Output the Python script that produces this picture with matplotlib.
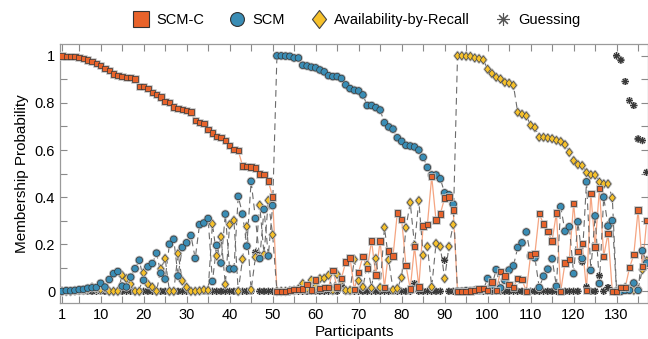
import numpy as np
import matplotlib
matplotlib.use('Agg')
import matplotlib.pyplot as plt
import matplotlib.patheffects as pe
from matplotlib.lines import Line2D
from matplotlib.path import Path
from matplotlib.ticker import MultipleLocator, FuncFormatter

plt.rcParams['font.family'] = ['Liberation Sans', 'DejaVu Sans']

participants = list(range(1, 138))

scm_c = [1.0, 0.998, 0.996, 0.996, 0.994, 0.989, 0.983, 0.976, 0.967, 0.959,
         0.947, 0.937, 0.922, 0.916, 0.912, 0.909, 0.908, 0.902, 0.870, 0.870,
         0.861, 0.845, 0.837, 0.826, 0.807, 0.803, 0.783, 0.777, 0.773, 0.769,
         0.762, 0.725, 0.716, 0.712, 0.688, 0.672, 0.657, 0.652, 0.640, 0.620,
         0.601, 0.598, 0.533, 0.530, 0.528, 0.523, 0.498, 0.495, 0.468, 0.401,
         0.0, 0.0, 0.0, 0.003, 0.007, 0.008, 0.01, 0.028, 0.006, 0.048,
         0.012, 0.016, 0.016, 0.089, 0.018, 0.054, 0.125, 0.142, 0.008, 0.081,
         0.149, 0.096, 0.214, 0.07, 0.214, 0.016, 0.172, 0.15, 0.332, 0.306,
         0.11, 0.01, 0.19, 0.018, 0.277, 0.284, 0.487, 0.302, 0.329, 0.396,
         0.4, 0.345, 0.0, 0.0, 0.0, 0.002, 0.004, 0.01, 0.012, 0.004,
         0.04, 0.004, 0.085, 0.065, 0.03, 0.016, 0.054, 0.05, 0.0, 0.154,
         0.16, 0.33, 0.285, 0.253, 0.214, 0.333, 0.0, 0.12, 0.134, 0.373,
         0.17, 0.203, 0.004, 0.416, 0.189, 0.436, 0.149, 0.245, 0.0, 0.0,
         0.016, 0.016, 0.1, 0.156, 0.345, 0.105, 0.3]

scm = [0.0, 0.003, 0.002, 0.004, 0.007, 0.008, 0.013, 0.015, 0.016, 0.034,
       0.018, 0.05, 0.075, 0.084, 0.022, 0.018, 0.06, 0.096, 0.132, 0.047,
       0.104, 0.118, 0.162, 0.077, 0.052, 0.2, 0.221, 0.065, 0.186, 0.206,
       0.237, 0.14, 0.283, 0.29, 0.309, 0.042, 0.195, 0.12, 0.328, 0.095,
       0.095, 0.403, 0.328, 0.192, 0.467, 0.309, 0.139, 0.348, 0.15, 0.364,
       1.0, 1.0, 0.999, 0.998, 0.991, 0.991, 0.960, 0.957, 0.952, 0.949,
       0.940, 0.932, 0.916, 0.912, 0.912, 0.904, 0.877, 0.861, 0.854, 0.851,
       0.834, 0.789, 0.789, 0.780, 0.770, 0.716, 0.698, 0.689, 0.652, 0.637,
       0.620, 0.617, 0.613, 0.600, 0.569, 0.526, 0.494, 0.494, 0.478, 0.418,
       0.41, 0.37, 0.0, 0.0, 0.002, 0.002, 0.004, 0.004, 0.007, 0.054,
       0.025, 0.092, 0.014, 0.047, 0.09, 0.108, 0.186, 0.206, 0.252, 0.15,
       0.142, 0.016, 0.064, 0.094, 0.138, 0.021, 0.359, 0.255, 0.274, 0.075,
       0.295, 0.139, 0.465, 0.089, 0.32, 0.033, 0.4, 0.277, 0.3, 0.0,
       0.0, 0.004, 0.004, 0.035, 0.004, 0.172, 0.12]

avail = [0.0, 0.0, 0.0, 0.002, 0.004, 0.005, 0.008, 0.017, 0.01, 0.007,
         0.014, 0.0, 0.0, 0.0, 0.068, 0.054, 0.03, 0.0, 0.0, 0.078,
         0.03, 0.018, 0.0, 0.095, 0.139, 0.0, 0.0, 0.16, 0.044, 0.017,
         0.0, 0.0, 0.002, 0.006, 0.004, 0.286, 0.15, 0.231, 0.029, 0.283,
         0.301, 0.0, 0.136, 0.275, 0.006, 0.145, 0.366, 0.156, 0.386, 0.24,
         0.0, 0.0, 0.0, 0.002, 0.004, 0.01, 0.033, 0.012, 0.047, 0.02,
         0.054, 0.055, 0.068, 0.004, 0.072, 0.045, 0.004, 0.004, 0.135, 0.045,
         0.018, 0.113, 0.014, 0.139, 0.016, 0.271, 0.133, 0.006, 0.012, 0.058,
         0.27, 0.377, 0.196, 0.385, 0.153, 0.19, 0.018, 0.203, 0.19, 0.054,
         0.19, 0.283, 1.0, 1.0, 0.998, 0.998, 0.991, 0.988, 0.983, 0.943,
         0.925, 0.909, 0.902, 0.887, 0.884, 0.875, 0.760, 0.752, 0.745, 0.705,
         0.696, 0.654, 0.654, 0.651, 0.648, 0.641, 0.636, 0.623, 0.590, 0.555,
         0.538, 0.534, 0.504, 0.495, 0.494, 0.464, 0.456, 0.456, 0.397, 0.0,
         0.01, 0.016, 0.01, 0.004, 0.01, 0.092, 0.13]

guess = [0.0, 0.0, 0.0, 0.0, 0.0, 0.0, 0.0, 0.0, 0.0, 0.0,
         0.0, 0.0, 0.0, 0.0, 0.0, 0.0, 0.0, 0.0, 0.0, 0.0,
         0.0, 0.0, 0.0, 0.0, 0.0, 0.0, 0.0, 0.0, 0.0, 0.0,
         0.0, 0.0, 0.0, 0.0, 0.0, 0.0, 0.0, 0.0, 0.0, 0.0,
         0.0, 0.0, 0.0, 0.0, 0.0, 0.165, 0.0, 0.0, 0.0, 0.0,
         0.0, 0.0, 0.0, 0.0, 0.0, 0.0, 0.0, 0.0, 0.0, 0.0,
         0.0, 0.0, 0.0, 0.0, 0.0, 0.026, 0.0, 0.0, 0.0, 0.0,
         0.0, 0.0, 0.0, 0.0, 0.0, 0.0, 0.0, 0.0, 0.0, 0.0,
         0.0, 0.0, 0.033, 0.0, 0.0, 0.0, 0.0, 0.0, 0.0, 0.132,
         0.0, 0.0, 0.0, 0.0, 0.0, 0.0, 0.0, 0.0, 0.0, 0.0,
         0.0, 0.0, 0.0, 0.0, 0.0, 0.0, 0.0, 0.0, 0.0, 0.0,
         0.0, 0.0, 0.0, 0.0, 0.0, 0.0, 0.0, 0.0, 0.0, 0.0,
         0.0, 0.125, 0.018, 0.0, 0.0, 0.066, 0.0, 0.016, 0.0, 1.0,
         0.982, 0.891, 0.81, 0.789, 0.647, 0.64, 0.505]

orange = '#E8632B'
blue = '#3A8DB5'
yellow = '#F6C12B'

# diamond a bit wider than matplotlib's thin diamond
diamond = Path([(0, 1), (0.78, 0), (0, -1), (-0.78, 0), (0, 1)],
               [Path.MOVETO, Path.LINETO, Path.LINETO, Path.LINETO, Path.CLOSEPOLY])

fig = plt.figure(figsize=(6.48, 3.39), dpi=100)
ax = fig.add_axes([0.0926, 0.106, 0.9074, 0.764])

# connecting lines
ax.plot(participants, scm_c, '-', color='#F5A582', lw=0.9, zorder=1)
ax.plot(participants, scm, color='#6b6b6b', lw=0.8, ls=(0, (6, 4)), zorder=1)
ax.plot(participants, avail, color='#6b6b6b', lw=0.8, ls=(0, (6, 4)), zorder=1)

halo = [pe.Stroke(linewidth=1.8, foreground='#bdbdbd'), pe.Normal()]
ax.plot(participants, guess, ls='none', marker=(8, 2, 0), ms=5, mec='#3a3a3a',
        mew=0.6, path_effects=halo, zorder=3)
ax.plot(participants, avail, ls='none', marker=diamond, ms=5.6, mfc=yellow,
        mec='#444444', mew=0.5, path_effects=halo, zorder=4)
ax.plot(participants, scm, ls='none', marker='o', ms=4.7, mfc=blue,
        mec='#333333', mew=0.5, path_effects=halo, zorder=5)
ax.plot(participants, scm_c, ls='none', marker='s', ms=3.9, mfc=orange,
        mec='#333333', mew=0.5, path_effects=halo, zorder=6)

ax.set_xlim(0.55, 137.3)
ax.set_ylim(-0.05, 1.05)
ax.set_xticks([1] + list(range(10, 131, 10)))
ax.xaxis.set_minor_locator(MultipleLocator(5))
ax.yaxis.set_major_locator(MultipleLocator(0.2))
ax.yaxis.set_minor_locator(MultipleLocator(0.1))
ax.yaxis.set_major_formatter(FuncFormatter(lambda v, p: '%g' % round(v, 2)))
ax.tick_params(which='both', direction='in', top=True, right=True,
               length=5, width=0.8, color='#8a8a8a', labelsize=10.5)
for s in ax.spines.values():
    s.set_color('#9a9a9a')
    s.set_linewidth(0.9)

ax.set_xlabel('Participants', fontsize=11, labelpad=2)
ax.set_ylabel('Membership Probability', fontsize=11, labelpad=4)

handles = [
    Line2D([], [], ls='none', marker='s', ms=11, mfc=orange, mec='#333333', mew=0.8),
    Line2D([], [], ls='none', marker='o', ms=10, mfc=blue, mec='#333333', mew=0.8),
    Line2D([], [], ls='none', marker=diamond, ms=13, mfc=yellow, mec='#444444', mew=0.8),
    Line2D([], [], ls='none', marker=(8, 2, 0), ms=9, mec='#555555', mew=0.8),
]
labels = ['SCM-C', 'SCM', 'Availability-by-Recall', 'Guessing']
fig.legend(handles, labels, loc='center', bbox_to_anchor=(0.55, 0.942), ncol=4,
           frameon=False, fontsize=10.5, handlelength=1.2, handletextpad=0.45,
           columnspacing=1.7)

fig.savefig('out.png', dpi=100)
